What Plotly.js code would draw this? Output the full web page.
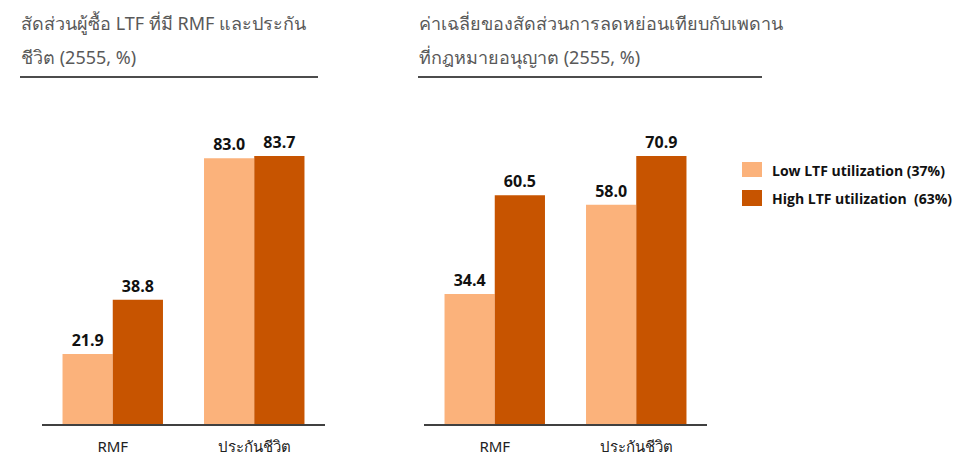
<!DOCTYPE html>
<html>
<head>
<meta charset="utf-8">
<script src="https://cdn.plot.ly/plotly-3.0.1.min.js"></script>
<style>html,body{margin:0;padding:0;background:#fff;}#chart{width:960px;height:474px;}</style>
</head>
<body>
<div id="chart"></div>
<script>
const categories = ["RMF", "ประกันชีวิต"];
const seriesNames = ["Low LTF utilization (37%)", "High LTF utilization  (63%)"];
const leftLow = [21.9, 83.0];
const leftHigh = [38.8, 83.7];
const rightLow = [34.4, 58.0];
const rightHigh = [60.5, 70.9];
const leftTitleLines = ["สัดส่วนผู้ซื้อ LTF ที่มี RMF และประกัน", "ชีวิต (2555, %)"];
const rightTitleLines = ["ค่าเฉลี่ยของสัดส่วนการลดหย่อนเทียบกับเพดาน", "ที่กฎหมายอนุญาต (2555, %)"];

const lightColor = "#FBB27B";
const darkColor = "#C75400";
const W = 960, BASE = 424, PH = 324;
const labelFont = {family: "Open Sans, Liberation Sans, sans-serif", size: 16, color: "#111", weight: 700};
const py = px => (BASE - px) / PH;

function bar(y, color, xa, ya, name) {
  return {
    type: "bar", x: categories, y: y, name: name, xaxis: xa, yaxis: ya,
    marker: {color: color, line: {width: 0}},
    text: y.map(v => v.toFixed(1)), textposition: "outside",
    textfont: labelFont, cliponaxis: false, showlegend: false, hoverinfo: "skip"
  };
}

const data = [
  bar(leftLow, lightColor, "x", "y", seriesNames[0]),
  bar(leftHigh, darkColor, "x", "y", seriesNames[1]),
  bar(rightLow, lightColor, "x2", "y2", seriesNames[0]),
  bar(rightHigh, darkColor, "x2", "y2", seriesNames[1])
];

const axisCommon = {
  type: "category", range: [-0.5, 1.5], showgrid: false, zeroline: false,
  showline: true, linecolor: "#404040", linewidth: 1.5, ticks: "", ticklabelstandoff: 8,
  tickfont: {family: "Noto Sans, DejaVu Sans, sans-serif", size: 15, color: "#222"}, fixedrange: true
};
const yCommon = {showgrid: false, zeroline: false, showline: false, showticklabels: false, ticks: "", fixedrange: true};

const titleFont = {family: "Noto Sans, DejaVu Sans, sans-serif", size: 18, color: "#595959"};
const legendFont = {family: "Open Sans, Liberation Sans, sans-serif", size: 14, color: "#111", weight: 700};

function titleAnn(text, x, yc) {
  return {text: text, xref: "paper", yref: "paper", x: x / W, y: py(yc), xanchor: "left", yanchor: "middle",
          showarrow: false, align: "left", font: titleFont};
}

const layout = {
  width: 960, height: 474,
  margin: {l: 0, r: 0, t: 100, b: 50},
  paper_bgcolor: "#fff", plot_bgcolor: "#fff",
  barmode: "group", bargap: 0.29, bargroupgap: 0,
  xaxis: Object.assign({}, axisCommon, {domain: [42 / W, 325 / W], anchor: "y"}),
  yaxis: Object.assign({}, yCommon, {range: [0, 101.2], anchor: "x"}),
  xaxis2: Object.assign({}, axisCommon, {domain: [424 / W, 707 / W], anchor: "y2"}),
  yaxis2: Object.assign({}, yCommon, {range: [0, 85.7], anchor: "x2"}),
  annotations: [
    titleAnn(leftTitleLines[0], 19, 23),
    titleAnn(leftTitleLines[1], 19, 57),
    titleAnn(rightTitleLines[0], 417, 23),
    titleAnn(rightTitleLines[1], 417, 57),
    {text: seriesNames[0], xref: "paper", yref: "paper", x: 770 / W, y: py(170), xanchor: "left", yanchor: "middle",
     showarrow: false, font: legendFont},
    {text: seriesNames[1], xref: "paper", yref: "paper", x: 770 / W, y: py(198), xanchor: "left", yanchor: "middle",
     showarrow: false, font: legendFont}
  ],
  shapes: [
    {type: "line", xref: "paper", yref: "paper", x0: 20 / W, x1: 318 / W, y0: py(77), y1: py(77),
     line: {color: "#111", width: 1.5}},
    {type: "line", xref: "paper", yref: "paper", x0: 418 / W, x1: 762 / W, y0: py(77), y1: py(77),
     line: {color: "#111", width: 1.5}},
    {type: "rect", xref: "paper", yref: "paper", x0: 742 / W, x1: 762 / W, y0: py(177), y1: py(162),
     fillcolor: lightColor, line: {width: 0}},
    {type: "rect", xref: "paper", yref: "paper", x0: 742 / W, x1: 762 / W, y0: py(206), y1: py(190),
     fillcolor: darkColor, line: {width: 0}}
  ]
};

Plotly.newPlot("chart", data, layout, {displayModeBar: false, staticPlot: true});
</script>
</body>
</html>
